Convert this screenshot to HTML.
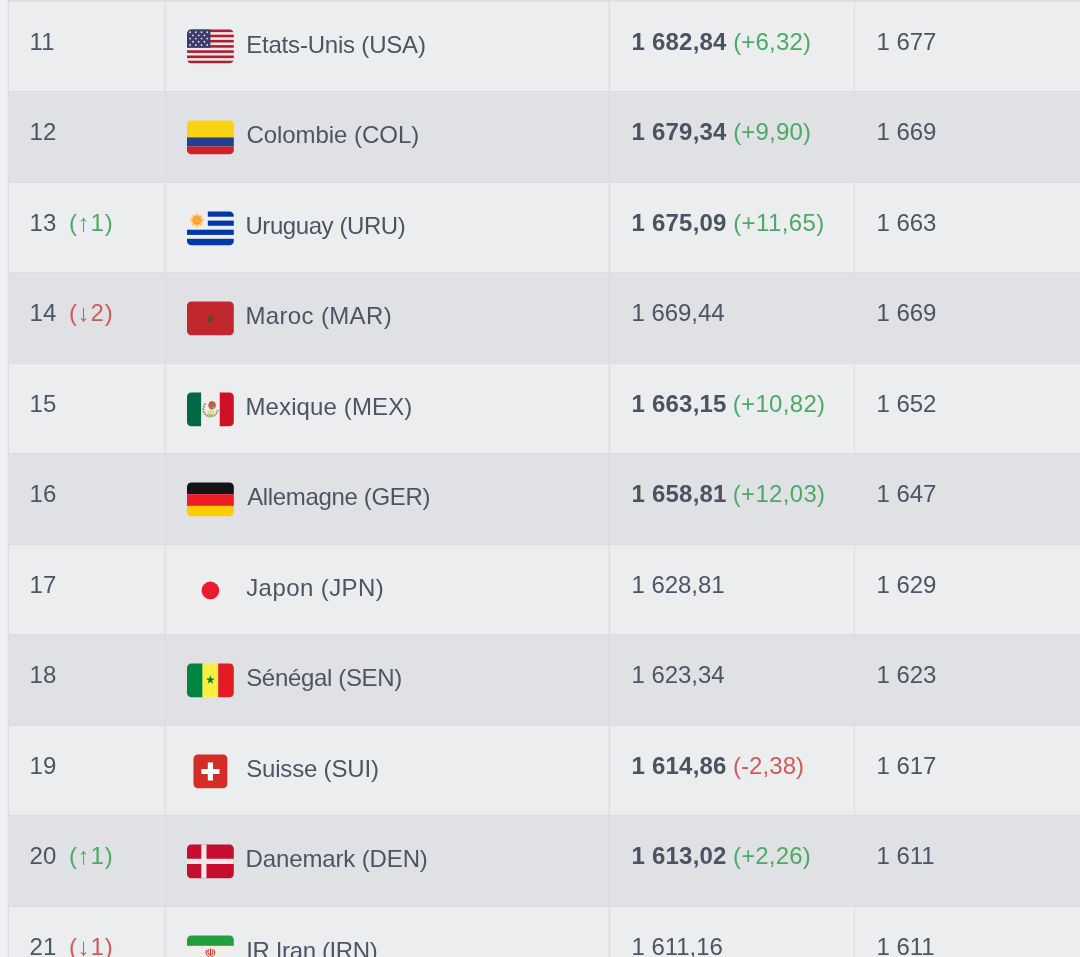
<!DOCTYPE html>
<html lang="fr">
<head>
<meta charset="utf-8">
<title>Classement FIFA</title>
<style>
html,body{margin:0;padding:0}
body{width:1080px;height:957px;overflow:hidden;background:#eef0f3;position:relative;font-family:"Liberation Sans",Arial,sans-serif;color:#4b5563;font-size:24px;line-height:28px}
.tb{position:absolute;left:8px;top:0;width:1072px;height:957px;background:#ecedef}
.r{position:absolute;left:0;width:1072px;border-top:1px solid #dcdde1;box-sizing:border-box}
.r.e{background:#e0e1e5}
.v{position:absolute;top:0;width:1px;height:957px;background:#dcdde1}
.t{position:absolute;white-space:nowrap;height:28px}
.b{font-weight:bold;color:#4a5361}
.g{color:#4aab62}
.rd{color:#cf5a58}
.f{position:absolute;left:178.9px;width:46.8px;height:46.8px}
</style>
</head>
<body>
<svg width="0" height="0" style="position:absolute"><defs><clipPath id="fc"><rect x="0" y="5" width="36" height="26" rx="3.3" ry="3.3"/></clipPath><clipPath id="fq"><rect x="5" y="5" width="26" height="26" rx="3.3" ry="3.3"/></clipPath></defs></svg>
<div class="tb">
<div class="r" style="top:0px;height:91px">
<span class="t" style="left:21.60px;top:26.90px">11</span>
<svg class="f" style="top:22.3px" viewBox="0 0 36 36"><g clip-path="url(#fc)"><rect x="-1" y="4" width="38" height="28" fill="#F6E6E8"/><rect x="-1" y="4" width="38" height="3" fill="#A82133"/><rect x="-1" y="9" width="38" height="2" fill="#A82133"/><rect x="-1" y="13" width="38" height="2" fill="#A82133"/><rect x="-1" y="17" width="38" height="2" fill="#A82133"/><rect x="-1" y="21" width="38" height="2" fill="#A82133"/><rect x="-1" y="25" width="38" height="2" fill="#A82133"/><rect x="-1" y="29" width="38" height="3" fill="#A82133"/><rect x="-1" y="4" width="19" height="15" fill="#3C3B6E"/><g fill="#E4E4EC"><circle cx="2.4" cy="7.10" r=".7"/><circle cx="6.8" cy="7.10" r=".7"/><circle cx="11.2" cy="7.10" r=".7"/><circle cx="15.6" cy="7.10" r=".7"/><circle cx="4.6" cy="9.55" r=".7"/><circle cx="9.0" cy="9.55" r=".7"/><circle cx="13.4" cy="9.55" r=".7"/><circle cx="2.4" cy="12.00" r=".7"/><circle cx="6.8" cy="12.00" r=".7"/><circle cx="11.2" cy="12.00" r=".7"/><circle cx="15.6" cy="12.00" r=".7"/><circle cx="4.6" cy="14.45" r=".7"/><circle cx="9.0" cy="14.45" r=".7"/><circle cx="13.4" cy="14.45" r=".7"/><circle cx="2.4" cy="16.90" r=".7"/><circle cx="6.8" cy="16.90" r=".7"/><circle cx="11.2" cy="16.90" r=".7"/><circle cx="15.6" cy="16.90" r=".7"/></g></g></svg>
<span class="t" style="left:238.20px;top:30.20px;letter-spacing:-0.200px">Etats-Unis (USA)</span><span class="t b" style="left:623.50px;top:26.90px;letter-spacing:0.220px">1 682,84</span><span class="t g" style="left:725.20px;top:26.90px;letter-spacing:0.167px">(+6,32)</span><span class="t" style="left:868.40px;top:26.90px">1 677</span>
</div>
<div class="r e" style="top:91px;height:91px">
<span class="t" style="left:21.60px;top:25.90px">12</span>
<svg class="f" style="top:22.3px" viewBox="0 0 36 36"><g clip-path="url(#fc)"><rect x="-1" y="4" width="38" height="14" fill="#FBD116"/><rect x="-1" y="18" width="38" height="7" fill="#22408C"/><rect x="-1" y="25" width="38" height="7" fill="#CE2028"/></g></svg>
<span class="t" style="left:238.40px;top:29.20px;letter-spacing:-0.046px">Colombie (COL)</span><span class="t b" style="left:623.50px;top:25.90px;letter-spacing:0.220px">1 679,34</span><span class="t g" style="left:725.20px;top:25.90px;letter-spacing:0.167px">(+9,90)</span><span class="t" style="left:868.40px;top:25.90px">1 669</span>
</div>
<div class="r" style="top:182px;height:90px">
<span class="t" style="left:21.60px;top:25.90px">13</span><span class="t g" style="left:60.90px;top:25.90px;letter-spacing:0.800px">(↑1)</span>
<svg class="f" style="top:22.3px" viewBox="0 0 36 36"><g clip-path="url(#fc)"><rect x="-1" y="4" width="38" height="28" fill="#EEE"/><rect x="16" y="4" width="21" height="5" fill="#0038A8"/><rect x="16" y="12" width="21" height="4" fill="#0038A8"/><rect x="-1" y="19" width="38" height="4" fill="#0038A8"/><rect x="-1" y="26" width="38" height="6" fill="#0038A8"/><polygon fill="#FFB347" points="7.70,5.70 8.81,9.02 11.94,7.46 10.38,10.59 13.70,11.70 10.38,12.81 11.94,15.94 8.81,14.38 7.70,17.70 6.59,14.38 3.46,15.94 5.02,12.81 1.70,11.70 5.02,10.59 3.46,7.46 6.59,9.02"/><polygon fill="#FFC261" points="9.69,6.90 9.75,9.65 12.50,9.71 10.60,11.70 12.50,13.69 9.75,13.75 9.69,16.50 7.70,14.60 5.71,16.50 5.65,13.75 2.90,13.69 4.80,11.70 2.90,9.71 5.65,9.65 5.71,6.90 7.70,8.80"/><circle cx="7.7" cy="11.7" r="2.7" fill="#FFAC33" stroke="#E8912D" stroke-width=".7"/></g></svg>
<span class="t" style="left:237.40px;top:29.20px;letter-spacing:-0.417px">Uruguay (URU)</span><span class="t b" style="left:623.50px;top:25.90px;letter-spacing:0.220px">1 675,09</span><span class="t g" style="left:725.20px;top:25.90px;letter-spacing:0.400px">(+11,65)</span><span class="t" style="left:868.40px;top:25.90px">1 663</span>
</div>
<div class="r e" style="top:272px;height:91px">
<span class="t" style="left:21.60px;top:25.90px">14</span><span class="t rd" style="left:60.90px;top:25.90px;letter-spacing:0.800px">(↓2)</span>
<svg class="f" style="top:22.3px" viewBox="0 0 36 36"><g clip-path="url(#fc)"><rect x="-1" y="4" width="38" height="28" fill="#C1272D"/><polygon fill="#3D562C" points="18.00,14.30 18.94,16.91 21.71,16.99 19.52,18.69 20.29,21.36 18.00,19.80 15.71,21.36 16.48,18.69 14.29,16.99 17.06,16.91"/><polygon fill="#7A3A2A" points="18.00,19.40 17.53,18.95 16.95,18.64 17.24,18.05 17.35,17.41 18.00,17.50 18.65,17.41 18.76,18.05 19.05,18.64 18.47,18.95"/></g></svg>
<span class="t" style="left:237.40px;top:29.20px;letter-spacing:0.360px">Maroc (MAR)</span><span class="t" style="left:623.50px;top:25.90px;letter-spacing:-0.050px">1 669,44</span><span class="t" style="left:868.40px;top:25.90px">1 669</span>
</div>
<div class="r" style="top:363px;height:90px">
<span class="t" style="left:21.60px;top:25.90px">15</span>
<svg class="f" style="top:22.3px" viewBox="0 0 36 36"><g clip-path="url(#fc)"><rect x="-1" y="4" width="12" height="28" fill="#006847"/><rect x="25" y="4" width="12" height="28" fill="#CE1126"/><rect x="11" y="4" width="14" height="28" fill="#EEE"/><path fill="none" stroke="#7D9C52" stroke-width="1.5" stroke-dasharray="1.3 .7" d="M14.300 13.600c-3.300 3.400-1.700 9.800 3.700 9.800 3.400 0 5.600-2.500 5.600-5.800"/><ellipse cx="18.300" cy="20.200" rx="2.600" ry="2.100" fill="#DCDF9C"/><path fill="#8FA85A" d="M16.200 21.300c.8.900 3 .9 3.900 0l-.5 1.300h-2.900z"/><ellipse cx="19.300" cy="14.900" rx="2.900" ry="3.100" fill="#B36B45"/><path fill="#D9A07A" d="M19.400 16.300c1-.3 1.800.2 2.200 1-.8.500-1.900.2-2.200-1z"/><path fill="#8A4B2D" d="M17 13.500c.6-1.300 2.300-1.800 3.500-1.100-1.200.1-2.500.5-3.500 1.100z"/></g></svg>
<span class="t" style="left:237.40px;top:29.20px;letter-spacing:0.133px">Mexique (MEX)</span><span class="t b" style="left:623.50px;top:25.90px;letter-spacing:0.220px">1 663,15</span><span class="t g" style="left:724.80px;top:25.90px;letter-spacing:0.314px">(+10,82)</span><span class="t" style="left:868.40px;top:25.90px">1 652</span>
</div>
<div class="r e" style="top:453px;height:91px">
<span class="t" style="left:21.60px;top:25.90px">16</span>
<svg class="f" style="top:22.3px" viewBox="0 0 36 36"><g clip-path="url(#fc)"><rect x="-1" y="4" width="38" height="10" fill="#141414"/><rect x="-1" y="14" width="38" height="9" fill="#ED1F24"/><rect x="-1" y="23" width="38" height="9" fill="#FFCD05"/></g></svg>
<span class="t" style="left:239.20px;top:29.20px;letter-spacing:-0.343px">Allemagne (GER)</span><span class="t b" style="left:623.50px;top:25.90px;letter-spacing:0.220px">1 658,81</span><span class="t g" style="left:724.80px;top:25.90px;letter-spacing:0.314px">(+12,03)</span><span class="t" style="left:868.40px;top:25.90px">1 647</span>
</div>
<div class="r" style="top:544px;height:90px">
<span class="t" style="left:21.60px;top:25.90px">17</span>
<svg class="f" style="top:22.3px" viewBox="0 0 36 36"><g clip-path="url(#fc)"><rect x="-1" y="4" width="38" height="28" fill="#EEEEEF"/><circle fill="#ED1B2F" cx="18" cy="18" r="6.8"/></g></svg>
<span class="t" style="left:238.20px;top:29.20px;letter-spacing:0.420px">Japon (JPN)</span><span class="t" style="left:623.50px;top:25.90px;letter-spacing:-0.050px">1 628,81</span><span class="t" style="left:868.40px;top:25.90px">1 629</span>
</div>
<div class="r e" style="top:634px;height:91px">
<span class="t" style="left:21.60px;top:25.90px">18</span>
<svg class="f" style="top:22.3px" viewBox="0 0 36 36"><g clip-path="url(#fc)"><rect x="-1" y="4" width="13" height="28" fill="#00853F"/><rect x="12" y="4" width="12" height="28" fill="#FDEF42"/><rect x="24" y="4" width="13" height="28" fill="#E31B23"/><polygon fill="#0B7A2E" points="18.00,14.10 18.82,16.57 21.42,16.59 19.33,18.13 20.12,20.61 18.00,19.10 15.88,20.61 16.67,18.13 14.58,16.59 17.18,16.57"/></g></svg>
<span class="t" style="left:238.20px;top:29.20px;letter-spacing:-0.333px">Sénégal (SEN)</span><span class="t" style="left:623.50px;top:25.90px;letter-spacing:-0.050px">1 623,34</span><span class="t" style="left:868.40px;top:25.90px">1 623</span>
</div>
<div class="r" style="top:725px;height:90px">
<span class="t" style="left:21.60px;top:25.90px">19</span>
<svg class="f" style="top:22.3px" viewBox="0 0 36 36"><g clip-path="url(#fq)"><rect x="4" y="4" width="28" height="28" fill="#D32D27"/><path fill="#FFF" d="M25 16.063h-5v-5h-4v5h-5V20h5v5.063h4V20h5z"/></g></svg>
<span class="t" style="left:238.20px;top:29.20px;letter-spacing:-0.182px">Suisse (SUI)</span><span class="t b" style="left:623.50px;top:25.90px;letter-spacing:0.220px">1 614,86</span><span class="t rd" style="left:725.00px;top:25.90px;letter-spacing:0.067px">(-2,38)</span><span class="t" style="left:868.40px;top:25.90px">1 617</span>
</div>
<div class="r e" style="top:815px;height:91px">
<span class="t" style="left:21.60px;top:25.90px">20</span><span class="t g" style="left:60.90px;top:25.90px;letter-spacing:0.800px">(↑1)</span>
<svg class="f" style="top:22.3px" viewBox="0 0 36 36"><g clip-path="url(#fc)"><rect x="-1" y="4" width="38" height="28" fill="#C60C30"/><path fill="#F4E6E9" d="M15 4h-4v12H-1v4h12v12h4V20h22v-4H15z"/></g></svg>
<span class="t" style="left:237.60px;top:29.20px;letter-spacing:-0.138px">Danemark (DEN)</span><span class="t b" style="left:623.50px;top:25.90px;letter-spacing:0.220px">1 613,02</span><span class="t g" style="left:725.00px;top:25.90px;letter-spacing:0.167px">(+2,26)</span><span class="t" style="left:868.40px;top:25.90px">1 611</span>
</div>
<div class="r" style="top:906px;height:91px">
<span class="t" style="left:21.60px;top:25.90px">21</span><span class="t rd" style="left:60.90px;top:25.90px;letter-spacing:0.800px">(↓1)</span>
<svg class="f" style="top:22.3px" viewBox="0 0 36 36"><g clip-path="url(#fc)"><rect x="-1" y="4" width="38" height="9" fill="#239F40"/><rect x="-1" y="13" width="38" height="10" fill="#EEE"/><rect x="-1" y="23" width="38" height="9" fill="#DA0000"/><path fill="none" stroke="#DA0000" stroke-width=".7" d="M18 15v6M16.600 15.600c-1 1.600-.600 3.600.9 4.600M19.400 15.600c1 1.600.600 3.600-.9 4.600M15.400 16c-1.600 2-.600 4.600 1.800 5.200M20.600 16c1.600 2 .600 4.600-1.800 5.200"/></g></svg>
<span class="t" style="left:238.20px;top:30.20px;letter-spacing:-0.367px">IR Iran (IRN)</span><span class="t" style="left:623.50px;top:25.90px;letter-spacing:-0.050px">1 611,16</span><span class="t" style="left:868.40px;top:25.90px">1 611</span>
</div>
<div class="v" style="left:0px"></div>
<div class="v" style="left:157px"></div>
<div class="v" style="left:601px"></div>
<div class="v" style="left:846px"></div>
<div class="v" style="left:-1px;background:rgba(220,221,225,0.3)"></div>
<div class="v" style="left:156px;background:rgba(220,221,225,0.3)"></div>
<div class="v" style="left:600px;background:rgba(220,221,225,0.45)"></div>
<div style="position:absolute;left:0;top:1px;width:1072px;height:1px;background:rgba(220,221,225,.5)"></div>
</div>
</body>
</html>
